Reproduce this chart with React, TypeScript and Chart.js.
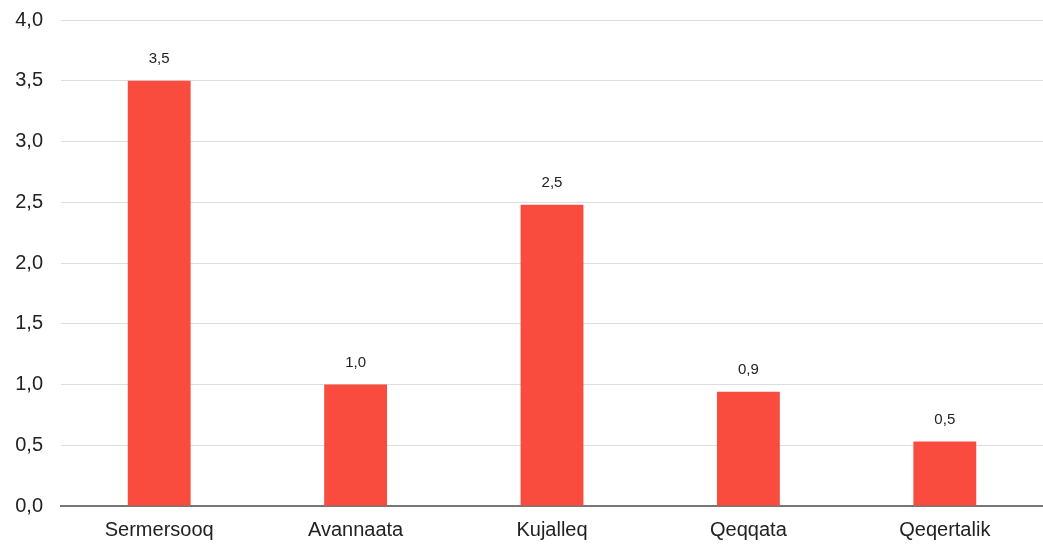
import React, { useEffect, useRef } from "react";
import { Chart, registerables } from "chart.js";

Chart.register(...registerables);

const categories = ["Sermersooq", "Avannaata", "Kujalleq", "Qeqqata", "Qeqertalik"];
const values = [3.5, 1.0, 2.48, 0.94, 0.53];
const yTicks = [0, 0.5, 1, 1.5, 2, 2.5, 3, 3.5, 4];

const fmt = (v: number) => v.toFixed(1).replace(".", ",");
const FONT = "'Liberation Sans', Arial, sans-serif";

const labelPlugin = {
  id: "barLabels",
  afterDatasetsDraw(chart: any) {
    const ctx = chart.ctx;
    const meta = chart.getDatasetMeta(0);
    ctx.save();
    ctx.font = "15px " + FONT;
    ctx.fillStyle = "#222222";
    ctx.textAlign = "center";
    ctx.textBaseline = "middle";
    meta.data.forEach((el: any, i: number) => {
      ctx.fillText(fmt(values[i]), el.x, el.y - 22);
    });
    ctx.restore();
  },
};

export default function App() {
  const ref = useRef<HTMLCanvasElement>(null);
  useEffect(() => {
    document.body.style.margin = "0";
    const chart = new Chart(ref.current!, {
      type: "bar",
      data: {
        labels: categories,
        datasets: [
          {
            data: values,
            backgroundColor: "#F94C3E",
            barPercentage: 0.32,
            categoryPercentage: 1,
          },
        ],
      },
      plugins: [labelPlugin],
      options: {
        animation: false,
        responsive: false,
        maintainAspectRatio: false,
        layout: { padding: { top: 1, right: 0, bottom: 0, left: 0 } },
        plugins: { legend: { display: false }, tooltip: { enabled: false } },
        scales: {
          x: {
            grid: { display: false, drawTicks: false },
            border: { display: true, color: "#777777", width: 2 },
            ticks: {
              color: "#222222",
              font: { family: FONT, size: 20 },
              padding: 12,
            },
            afterFit: (s: any) => {
              s.height = 39;
            },
          },
          y: {
            min: 0,
            max: 4,
            afterBuildTicks: (s: any) => {
              s.ticks = yTicks.map((v) => ({ value: v }));
            },
            grid: {
              drawTicks: false,
              color: (c: any) => (c.tick && c.tick.value === 0 ? "#777777" : "#dddddd"),
              lineWidth: 1,
            },
            border: { display: false },
            ticks: {
              color: "#222222",
              font: { family: FONT, size: 20 },
              padding: 18,
              callback: (v: any) => fmt(Number(v)),
            },
            afterFit: (s: any) => {
              s.width = 61;
            },
          },
        },
      },
    });
    return () => chart.destroy();
  }, []);
  return (
    <div style={{ position: "absolute", left: 0, top: 0, width: 1043, height: 545, overflow: "hidden" }}>
      <canvas
        ref={ref}
        width={1043}
        height={555}
        style={{ position: "absolute", left: 0, top: -10, width: 1043, height: 555 }}
      />
    </div>
  );
}
